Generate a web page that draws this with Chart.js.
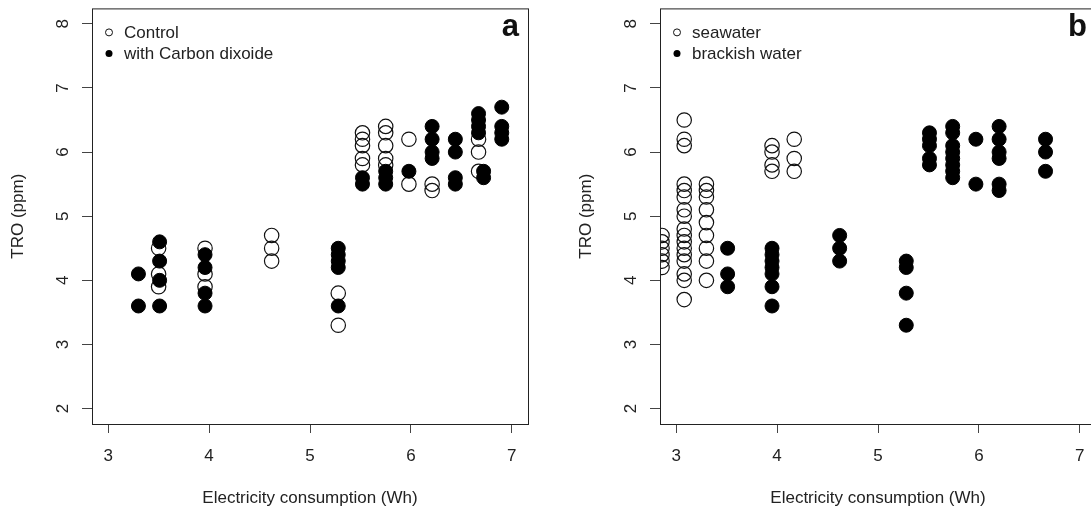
<!DOCTYPE html>
<html>
<head>
<meta charset="utf-8">
<script src="https://cdn.jsdelivr.net/npm/chart.js@4.4.0/dist/chart.umd.min.js"></script>
<style>
  html, body { margin: 0; padding: 0; background: #fff; overflow: hidden; width: 1091px; height: 515px; }
  canvas { position: absolute; top: 0; }
  #chartA { left: 0; }
  #chartB { left: 568px; }
</style>
</head>
<body>
<canvas id="chartA" width="545" height="515"></canvas>
<canvas id="chartB" width="545" height="515"></canvas>
<script>
// Axis ticks (same for both panels)
const xTicks = [3, 4, 5, 6, 7];
const yTicks = [2, 3, 4, 5, 6, 7, 8];

// Panel a - x columns and TRO readings in each column
const controlX = [3.5, 3.96, 4.62, 5.28, 5.52, 5.75, 5.98, 6.21, 6.67];
const controlY = [
    [4.5, 4.1, 3.9],
    [4.5, 4.1, 3.9],
    [4.7, 4.5, 4.3],
    [3.8, 3.3],
    [6.3, 6.2, 6.1, 5.9, 5.8],
    [6.4, 6.3, 6.1, 5.9, 5.8],
    [6.2, 5.5],
    [5.5, 5.4],
    [6.2, 6.0, 5.7]
];
const co2X = [3.3, 3.51, 3.96, 5.28, 5.52, 5.75, 5.98, 6.21, 6.44, 6.67, 6.72, 6.9];
const co2Y = [
    [4.1, 3.6],
    [4.6, 4.3, 4.0, 3.6],
    [4.4, 4.2, 3.8, 3.6],
    [4.5, 4.4, 4.3, 4.2, 3.6],
    [5.6, 5.5],
    [5.7, 5.6, 5.5],
    [5.7],
    [6.4, 6.2, 6.0, 5.9],
    [6.2, 6.0, 5.6, 5.5],
    [6.6, 6.5, 6.4, 6.3],
    [5.7, 5.6],
    [6.7, 6.4, 6.3, 6.2]
];

// Panel b
const seaX = [2.86, 3.08, 3.3, 3.95, 4.17];
const seaY = [
    [4.7, 4.6, 4.5, 4.4, 4.3, 4.2],
    [6.5, 6.2, 6.1, 5.5, 5.4, 5.3, 5.1, 5.0, 4.8, 4.7, 4.6, 4.5, 4.4, 4.3, 4.1, 4.0, 3.7],
    [5.5, 5.4, 5.3, 5.1, 4.9, 4.7, 4.5, 4.3, 4.0],
    [6.1, 6.0, 5.8, 5.7],
    [6.2, 5.9, 5.7]
];
const brackishX = [3.51, 3.95, 4.62, 5.28, 5.51, 5.74, 5.97, 6.2, 6.66];
const brackishY = [
    [4.5, 4.1, 3.9],
    [4.5, 4.4, 4.3, 4.2, 4.1, 3.9, 3.6],
    [4.7, 4.5, 4.3],
    [4.3, 4.2, 3.8, 3.3],
    [6.3, 6.2, 6.1, 5.9, 5.8],
    [6.4, 6.3, 6.1, 6.0, 5.9, 5.8, 5.7, 5.6],
    [6.2, 5.5],
    [6.4, 6.2, 6.0, 5.9, 5.5, 5.4],
    [6.2, 6.0, 5.7]
];

const FONT = "'Liberation Sans', Arial, sans-serif";
const INK = '#222';

const toPoints = (xs, ys) => xs.flatMap((x, i) => ys[i].map(y => ({ x, y })));

// Box round the plot, panel letter and legend (R style)
const frame = {
    id: 'frame',
    afterDraw(chart, args, opts) {
        const { ctx, chartArea: a } = chart;
        ctx.save();
        ctx.strokeStyle = INK;
        ctx.lineWidth = 1;
        ctx.strokeRect(a.left + 0.5, a.top + 0.5, a.width, a.height);

        ctx.fillStyle = '#111';
        ctx.font = `bold 31px ${FONT}`;
        ctx.textAlign = 'right';
        ctx.textBaseline = 'alphabetic';
        ctx.fillText(opts.letter, a.right - 9, a.top + 28);

        ctx.font = `17px ${FONT}`;
        ctx.textAlign = 'left';
        ctx.textBaseline = 'middle';
        opts.labels.forEach((label, i) => {
            const y = a.top + 24 + i * 21;
            ctx.beginPath();
            ctx.arc(a.left + 17, y, 3.5, 0, Math.PI * 2);
            if (i === 0) {
                ctx.lineWidth = 1;
                ctx.strokeStyle = '#111';
                ctx.stroke();
            } else {
                ctx.fillStyle = '#000';
                ctx.fill();
            }
            ctx.fillStyle = INK;
            ctx.fillText(label, a.left + 32, y + 1);
        });
        ctx.restore();
    }
};

function makeScales() {
    return {
        x: {
            type: 'linear',
            min: 2.84,
            max: 7.16,
            afterBuildTicks: s => { s.ticks = xTicks.map(v => ({ value: v })); },
            afterFit: s => { s.height = 91; s.paddingLeft = 0; s.paddingRight = 0; },
            border: { display: false },
            grid: { drawOnChartArea: false, tickLength: 9, color: '#444' },
            ticks: { font: { size: 17, family: FONT }, color: INK, padding: 13, maxRotation: 0 },
            title: {
                display: true,
                text: 'Electricity consumption (Wh)',
                font: { size: 17, family: FONT },
                color: INK,
                padding: { top: 0, bottom: 6 }
            }
        },
        y: {
            type: 'linear',
            min: 1.76,
            max: 8.24,
            afterBuildTicks: s => { s.ticks = yTicks.map(v => ({ value: v })); },
            afterFit: s => { s.width = 92; s.paddingTop = 0; s.paddingBottom = 0; },
            border: { display: false },
            grid: { drawOnChartArea: false, tickLength: 10, color: '#444' },
            ticks: {
                font: { size: 17, family: FONT }, color: INK,
                minRotation: 90, maxRotation: 90, crossAlign: 'center', padding: 14
            },
            title: {
                display: true,
                text: 'TRO (ppm)',
                font: { size: 17, family: FONT },
                color: INK,
                padding: { top: 8, bottom: 0 }
            }
        }
    };
}

function makeChart(id, letter, openName, openPts, fillName, fillPts) {
    return new Chart(document.getElementById(id), {
        type: 'scatter',
        data: {
            datasets: [
                {
                    label: fillName,
                    data: fillPts,
                    order: 0,
                    clip: 0,
                    pointRadius: 7,
                    pointBorderWidth: 1,
                    pointBackgroundColor: '#000',
                    pointBorderColor: '#000'
                },
                {
                    label: openName,
                    data: openPts,
                    order: 1,
                    clip: 0,
                    pointRadius: 7.2,
                    pointBorderWidth: 1.2,
                    pointBackgroundColor: 'rgba(0,0,0,0)',
                    pointBorderColor: '#111'
                }
            ]
        },
        options: {
            responsive: false,
            animation: false,
            devicePixelRatio: 1,
            events: [],
            layout: { padding: { left: 0, top: 8, right: 17, bottom: 0 } },
            scales: makeScales(),
            plugins: {
                legend: { display: false },
                tooltip: { enabled: false },
                frame: { letter, labels: [openName, fillName] }
            }
        },
        plugins: [frame]
    });
}

makeChart('chartA', 'a', 'Control', toPoints(controlX, controlY),
    'with Carbon dixoide', toPoints(co2X, co2Y));
makeChart('chartB', 'b', 'seawater', toPoints(seaX, seaY),
    'brackish water', toPoints(brackishX, brackishY));
</script>
</body>
</html>
